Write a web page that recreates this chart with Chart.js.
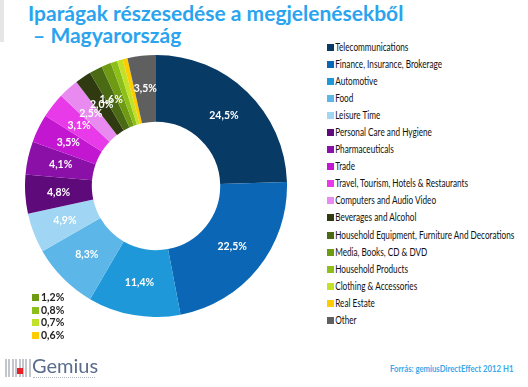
<!DOCTYPE html>
<html>
<head>
<meta charset="utf-8">
<script src="https://cdn.jsdelivr.net/npm/chart.js@4"></script>
<style>
    body { margin: 0; width: 528px; height: 387px; background: #fff; position: relative; overflow: hidden; font-family: Lato, "Open Sans", sans-serif; }
    #sidebar { position: absolute; left: 0; top: 0; width: 4px; height: 42px; background: #e6e6e6; }
    #title { position: absolute; left: 28px; top: 2px; color: #2aa4ee; font-weight: bold; font-size: 21px; line-height: 22px; white-space: nowrap; }
    #chartBox { position: absolute; left: 25px; top: 55px; width: 262px; height: 262px; }
    #legend { position: absolute; left: 327px; top: 40px; font-size: 10.5px; color: #111; transform: scaleX(0.78); transform-origin: 0 0; }
    #legend div { height: 17.05px; line-height: 14px; white-space: nowrap; }
    #legend span { display: inline-block; width: 8.5px; height: 7px; margin-right: 2px; vertical-align: 0px; }
    #small span { display: inline-block; width: 7px; height: 7px; margin-right: 2px; vertical-align: 0px; }
    #small { position: absolute; left: 32px; top: 291px; font-size: 10.5px; font-weight: bold; color: #222; }
    #small div { height: 12.6px; line-height: 12px; }
    #source { position: absolute; left: 390px; top: 363px; font-size: 9px; font-weight: bold; color: #3aa8ea; white-space: nowrap; transform: scaleX(0.86); transform-origin: 0 0; }
    #logo { position: absolute; left: 5px; top: 354px; width: 100px; height: 28px; }
    #logo .bars { position: absolute; left: 0; top: 5px; width: 27px; height: 18px;
        background: repeating-linear-gradient(90deg, #b4b8bf 0 2px, transparent 2px 3.4px); opacity: 0.8; }
    #logo .red { position: absolute; left: 12px; top: 14px; width: 6px; height: 6px; background: #e8202a; }
    #logo .name { position: absolute; left: 27px; top: -1px; font-size: 20px; color: #5a6b8c; font-family: Lato, sans-serif; }
    #logo .tag { position: absolute; left: 28px; top: 23px; width: 62px; height: 1px; border-top: 1px dotted #b0b6c2; }
</style>
</head>
<body>
<div id="sidebar"></div>
<div id="title">Iparágak részesedése a megjelenésekből<br>&nbsp;– Magyarország</div>
<div id="chartBox"><canvas id="shareChart" width="262" height="262"></canvas></div>
<div id="legend"></div>
<div id="small"></div>
<div id="logo"><div class="bars"></div><div class="red"></div><div class="name">Gemius</div><div class="tag"></div></div>
<div id="source">Forrás: gemiusDirectEffect 2012 H1</div>
<script>
const industries = [
    "Telecommunications", "Finance, Insurance, Brokerage", "Automotive", "Food",
    "Leisure Time", "Personal Care and Hygiene", "Pharmaceuticals", "Trade",
    "Travel, Tourism, Hotels & Restaurants", "Computers and Audio Video",
    "Beverages and Alcohol", "Household Equipment, Furniture And Decorations",
    "Media, Books, CD & DVD", "Household Products", "Clothing & Accessories",
    "Real Estate", "Other"
];
const shares = [24.5, 22.5, 11.4, 8.3, 4.9, 4.8, 4.1, 3.5, 3.1, 2.5, 2.0, 1.6, 1.2, 0.8, 0.7, 0.6, 3.5];
const sliceColors = [
    "#083a66", "#0b66b5", "#1e98d8", "#5cb7e8", "#a0d6f4", "#5e0a7a", "#8a10a8", "#c316d1",
    "#e83ae8", "#e88af0", "#2f3a10", "#4a6a14", "#6f9a14", "#8cbf1a", "#c2e22a", "#ffcc00", "#5f5f5f"
];
// slices too thin to label get listed bottom-left
const smallOnes = [12, 13, 14, 15];

const fmt = v => v.toFixed(1).replace(".", ",") + "%";

const legend = document.getElementById("legend");
industries.forEach((name, i) => {
    const row = document.createElement("div");
    row.innerHTML = '<span style="background:' + sliceColors[i] + '"></span>' + name.replace(/&/g, "&amp;");
    legend.appendChild(row);
});
const small = document.getElementById("small");
smallOnes.forEach(i => {
    const row = document.createElement("div");
    row.innerHTML = '<span style="background:' + sliceColors[i] + '"></span>' + fmt(shares[i]);
    small.appendChild(row);
});

const sliceLabels = {
    id: "sliceLabels",
    afterDatasetsDraw(chart) {
        const ctx = chart.ctx;
        ctx.save();
        ctx.fillStyle = "#fff";
        ctx.font = "bold 10.5px Lato, sans-serif";
        ctx.textAlign = "center";
        ctx.textBaseline = "middle";
        chart.getDatasetMeta(0).data.forEach((arc, i) => {
            if (smallOnes.includes(i)) return;
            const p = arc.tooltipPosition();
            ctx.fillText(fmt(shares[i]), p.x, p.y);
        });
        ctx.restore();
    }
};

new Chart(document.getElementById("shareChart"), {
    type: "doughnut",
    data: {
        labels: industries,
        datasets: [{ data: shares, backgroundColor: sliceColors, borderWidth: 0 }]
    },
    options: {
        responsive: false,
        animation: false,
        cutout: "49%",
        plugins: { legend: { display: false }, tooltip: { enabled: false } }
    },
    plugins: [sliceLabels]
});
</script>
</body>
</html>
